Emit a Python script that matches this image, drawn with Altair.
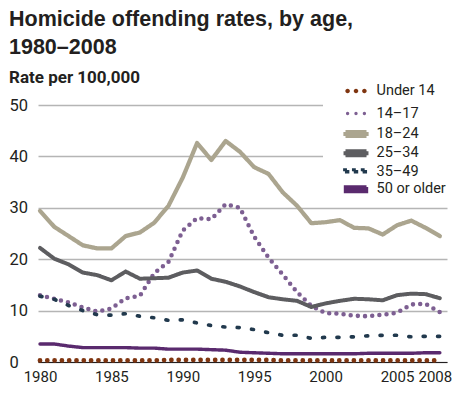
import altair as alt
import pandas as pd

years = list(range(1980, 2009))
series_names = ["Under 14", "14–17", "18–24", "25–34", "35–49", "50 or older"]

under14 = [0.3, 0.3, 0.3, 0.3, 0.3, 0.3, 0.3, 0.3, 0.3, 0.4, 0.4, 0.4, 0.4, 0.4, 0.4,
           0.4, 0.4, 0.3, 0.3, 0.3, 0.3, 0.3, 0.3, 0.3, 0.3, 0.3, 0.3, 0.3, 0.3]
age14_17 = [13.0, 12.3, 11.6, 10.6, 9.8, 10.4, 12.4, 12.9, 17.3, 19.5, 25.6, 28.0, 27.8, 30.7, 30.0,
            24.4, 20.3, 17.0, 13.6, 10.9, 9.5, 9.4, 9.0, 8.9, 9.2, 9.6, 11.2, 11.3, 9.7]
age18_24 = [29.4, 26.3, 24.5, 22.7, 22.1, 22.1, 24.5, 25.2, 27.1, 30.4, 35.9, 42.6, 39.3, 43.0, 40.9,
            37.9, 36.6, 33.0, 30.4, 27.0, 27.2, 27.6, 26.1, 26.0, 24.8, 26.6, 27.5, 26.1, 24.5]
age25_34 = [22.2, 20.1, 19.0, 17.4, 16.9, 15.9, 17.6, 16.2, 16.3, 16.4, 17.4, 17.8, 16.2, 15.6, 14.7,
            13.6, 12.6, 12.2, 11.9, 10.7, 11.4, 11.9, 12.3, 12.2, 12.0, 13.0, 13.3, 13.2, 12.4]
age35_49 = [12.8, 12.2, 11.0, 10.0, 9.2, 9.1, 9.4, 8.9, 8.6, 8.1, 8.2, 7.6, 7.1, 6.8, 6.7,
            6.3, 5.7, 5.2, 5.2, 4.6, 4.8, 4.8, 4.9, 5.1, 5.2, 5.2, 4.9, 5.0, 5.0]
age50plus = [3.5, 3.5, 3.1, 2.8, 2.8, 2.8, 2.8, 2.7, 2.7, 2.5, 2.5, 2.5, 2.4, 2.3, 1.9,
             1.8, 1.7, 1.6, 1.6, 1.6, 1.6, 1.6, 1.6, 1.7, 1.7, 1.7, 1.7, 1.8, 1.8]

x_ticks = [1980, 1985, 1990, 1995, 2000, 2005, 2008]
y_ticks = [0, 10, 20, 30, 40, 50]

colors = ["#7f3510", "#7d5f92", "#aba58f", "#5d5d60", "#21394d", "#5a2a6e"]
dashes = [[0, 7.3], [0, 7.2], [1, 0], [1, 0], [2, 12.4], [1, 0]]
widths = [4.8, 3.4, 4.2, 4.2, 3.6, 4.2]


def dots(r, cx=(-1.68, 0.0, 1.68)):
    return " ".join(
        f"M{c - r:.3f},0 a{r},{r} 0 1,0 {2 * r:.3f},0 a{r},{r} 0 1,0 {-2 * r:.3f},0 Z" for c in cx
    )


def bar(h, w=2.1):
    return f"M{-w},{-h} L{w},{-h} L{w},{h} L{-w},{h} Z"


def squares(w, h, cx=(-1.77, 0.0, 1.77)):
    return " ".join(
        f"M{c - w:.3f},{-h} L{c + w:.3f},{-h} L{c + w:.3f},{h} L{c - w:.3f},{h} Z" for c in cx
    )


legend_shapes = [dots(0.45), dots(0.33), bar(0.4), bar(0.4), squares(0.44, 0.34), bar(0.44)]

rows = []
for name, vals in zip(series_names, [under14, age14_17, age18_24, age25_34, age35_49, age50plus]):
    for yr, v in zip(years, vals):
        rows.append({"year": yr, "rate": v, "group": name})
df = pd.DataFrame(rows)

LABEL_FONT = "Roboto, Liberation Sans, sans-serif"
TEXT = "#231f20"

x_enc = alt.X("year:Q",
              scale=alt.Scale(domain=[1979.86, 2008.5], nice=False, zero=False),
              axis=alt.Axis(values=x_ticks, format="d", title=None, grid=False, ticks=False,
                            tickSize=0, domain=True, domainColor=TEXT, domainWidth=1.2,
                            labelFont=LABEL_FONT, labelFontSize=15, labelColor=TEXT,
                            labelPadding=7, labelFlush=False, labelOverlap=False,
                            labelOffset={"condition": {"test": "datum.value == 2008", "value": -5},
                                         "value": 0}))
y_enc = alt.Y("rate:Q",
              scale=alt.Scale(domain=[0, 50], nice=False),
              axis=alt.Axis(values=y_ticks, title=None, grid=True, gridColor="#b5b5b5",
                            gridWidth=1.3, ticks=False, tickSize=0, domain=False,
                            labelAlign="left", labelPadding=29, labelFont=LABEL_FONT,
                            labelFontSize=16.5, labelColor=TEXT))

lines = alt.Chart(df).mark_line(strokeCap="round", strokeJoin="round").encode(
    x=x_enc, y=y_enc,
    stroke=alt.Stroke("group:N", scale=alt.Scale(domain=series_names, range=colors), legend=None),
    strokeDash=alt.StrokeDash("group:N", scale=alt.Scale(domain=series_names, range=dashes), legend=None),
    strokeWidth=alt.StrokeWidth("group:N", scale=alt.Scale(domain=series_names, range=widths), legend=None),
    order=alt.Order("year:Q"),
)

legend = alt.Legend(
    title=None, orient="none", legendX=285, legendY=-27.5,
    symbolSize=100, symbolOpacity=1, symbolStrokeWidth=0,
    labelFont=LABEL_FONT, labelFontSize=14.5, labelColor=TEXT,
    labelOffset=13, symbolOffset=19.5, rowPadding=-1.5, padding=6,
    fillColor="white", strokeColor="white",
)

keys = alt.Chart(df).mark_point(filled=True, opacity=0).encode(
    x=x_enc, y=y_enc,
    color=alt.Color("group:N", scale=alt.Scale(domain=series_names, range=colors), legend=legend),
    shape=alt.Shape("group:N", scale=alt.Scale(domain=series_names, range=legend_shapes), legend=legend),
)

chart = alt.layer(keys, lines).properties(
    width=409, height=257,
    padding={"left": 30, "top": 97, "right": 7, "bottom": 23},
    autosize=alt.AutoSizeParams(type="none"),
    title=alt.TitleParams(
        text=["Homicide offending rates, by age,", "1980–2008"],
        subtitle="Rate per 100,000",
        anchor="start", frame="bounds",
        font="Liberation Sans, Arial, sans-serif", fontSize=21.5, fontWeight="bold",
        color=TEXT, lineHeight=27.5,
        subtitleFont=LABEL_FONT, subtitleFontSize=17, subtitleFontWeight="bold",
        subtitleColor=TEXT, subtitlePadding=12, offset=-9,
    ),
).configure_view(stroke=None)

chart.save("out.html", embed_options={"renderer": "svg", "actions": False})
